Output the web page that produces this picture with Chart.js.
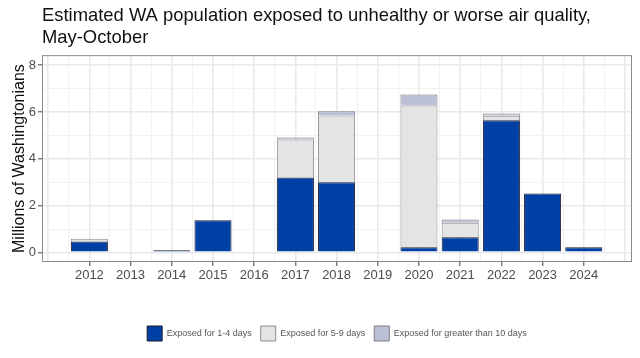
<!DOCTYPE html>
<html>
<head>
<meta charset="utf-8">
<script src="https://cdn.jsdelivr.net/npm/chart.js@4"></script>
<style>
  html, body { margin: 0; padding: 0; background: #fff; }
  #wrap { width: 640px; height: 358px; }
</style>
</head>
<body>
<div id="wrap"><canvas id="airChart" width="640" height="358"></canvas></div>
<script>
const years = [2012, 2013, 2014, 2015, 2016, 2017, 2018, 2019, 2020, 2021, 2022, 2023, 2024];
// millions of people
const days1to4 = [0.47, null, 0.09, 1.37, null, 3.20, 3.00, null, 0.22, 0.65, 5.65, 2.52, 0.22];
const days5to9 = [0.11, null, null, 0.02, null, 1.63, 2.85, null, 6.06, 0.62, 0.19, null, null];
const days10plus = [null, null, null, null, null, 0.08, 0.18, null, 0.47, 0.14, 0.10, null, null];
const yTicks = [0, 1, 2, 3, 4, 5, 6, 7, 8];

function points(vals) {
    return years.map((yr, i) => ({ x: yr, y: vals[i] }));
}

// grid every half year, labels on the whole years only
const xGrid = [];
for (let v = 2011; v <= 2025; v += 0.5) xGrid.push(v);
const isLabelled = v => Number.isInteger(v) && years.includes(v);
const tv = c => (c.tick ? c.tick.value : NaN);

const panelBorder = {
    id: 'panelBorder',
    afterDraw(chart) {
        const { ctx, chartArea: a } = chart;
        ctx.save();
        ctx.strokeStyle = '#8a8a8a';
        ctx.lineWidth = 1;
        ctx.strokeRect(a.left + 0.5, a.top + 0.5, a.right - a.left - 1, a.bottom - a.top - 1);
        ctx.restore();
    }
};

new Chart(document.getElementById('airChart'), {
    type: 'bar',
    data: {
        datasets: [{
            label: 'Exposed for 1-4 days',
            data: points(days1to4),
            backgroundColor: '#003FA3',
            borderColor: '#1a1a2e',
            borderWidth: 1
        }, {
            label: 'Exposed for 5-9 days',
            data: points(days5to9),
            backgroundColor: '#E4E4E4',
            borderColor: '#8c8c8c',
            borderWidth: 1
        }, {
            label: 'Exposed for greater than 10 days',
            data: points(days10plus),
            backgroundColor: '#BCC0D7',
            borderColor: '#7d7d85',
            borderWidth: 1
        }]
    },
    options: {
        responsive: false,
        animation: false,
        events: [],
        layout: { padding: { left: 0, right: 8, top: 0, bottom: 7 } },
        // sample size comes from the half-year grid ticks, so 1.8 x half a year = 0.9 year
        datasets: { bar: { categoryPercentage: 1, barPercentage: 1.8 } },
        scales: {
            x: {
                type: 'linear',
                stacked: true,
                offset: false,
                min: 2010.85,
                max: 2025.17,
                afterBuildTicks: s => { s.ticks = xGrid.map(v => ({ value: v })); },
                afterFit: s => { s.height = 55; },
                ticks: {
                    autoSkip: false,
                    maxRotation: 0,
                    padding: 2,
                    color: '#4d4d4d',
                    font: { family: 'Liberation Sans', size: 13 },
                    callback: v => isLabelled(v) ? String(v) : ''
                },
                grid: {
                    offset: false,
                    color: c => Number.isInteger(tv(c)) ? '#e9e9e9' : '#f2f2f2',
                    lineWidth: c => Number.isInteger(tv(c)) ? 1.6 : 1,
                    tickLength: 4,
                    tickColor: c => isLabelled(tv(c)) ? '#444' : 'rgba(0,0,0,0)',
                    tickWidth: 1
                },
                border: { display: false }
            },
            y: {
                stacked: true,
                min: -0.41,
                max: 8.43,
                afterBuildTicks: s => { s.ticks = yTicks.map(v => ({ value: v })); },
                afterFit: s => { s.width = 42; },
                ticks: {
                    padding: 2,
                    color: '#4d4d4d',
                    font: { family: 'Liberation Sans', size: 13 },
                    callback: v => v % 2 === 0 ? String(v) : ''
                },
                grid: {
                    color: c => tv(c) % 2 === 0 ? '#e9e9e9' : '#f2f2f2',
                    lineWidth: c => tv(c) % 2 === 0 ? 1.6 : 1,
                    tickLength: 4,
                    tickColor: c => tv(c) % 2 === 0 ? '#444' : 'rgba(0,0,0,0)',
                    tickWidth: 1
                },
                border: { display: false },
                title: {
                    display: true,
                    text: 'Millions of Washingtonians',
                    color: '#111',
                    font: { family: 'Liberation Sans', size: 16 },
                    padding: { top: 10, bottom: 0 }
                }
            }
        },
        plugins: {
            title: {
                display: true,
                text: ['Estimated WA population exposed to unhealthy or worse air quality,', 'May-October'],
                align: 'start',
                fullSize: false,
                color: '#111',
                font: { family: 'Liberation Sans', size: 18.4, weight: 'normal', lineHeight: 1.2 },
                padding: { top: 5, bottom: 6 }
            },
            legend: {
                position: 'bottom',
                fullSize: false,
                labels: {
                    boxWidth: 15,
                    boxHeight: 15,
                    padding: 9,
                    color: '#555',
                    font: { family: 'Liberation Sans', size: 9 }
                }
            },
            tooltip: { enabled: false }
        }
    },
    plugins: [panelBorder]
});
</script>
</body>
</html>
